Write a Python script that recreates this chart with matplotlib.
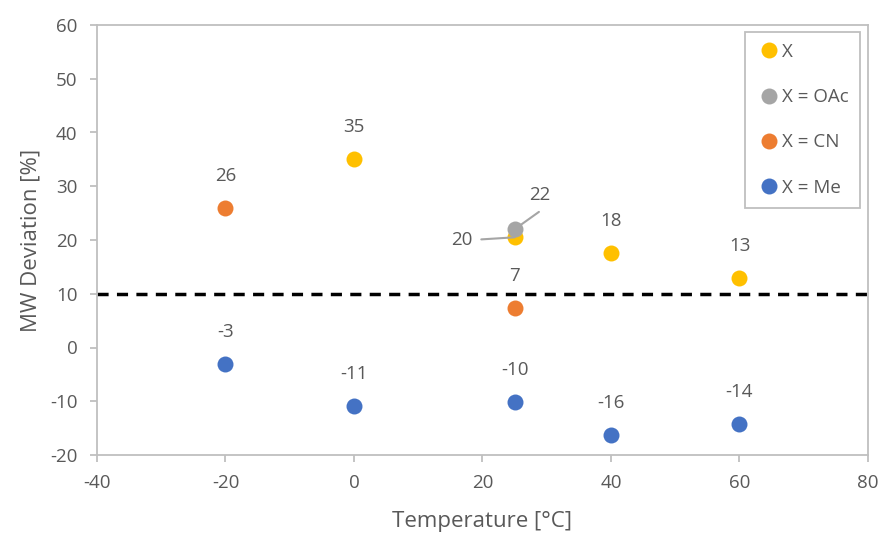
import matplotlib.pyplot as plt

# data
x_plain = [0, 25, 40, 60]
y_plain = [35, 20.5, 17.6, 13]
x_oac = [25]
y_oac = [22]
x_cn = [-20, 25]
y_cn = [26, 7.3]
x_me = [-20, 0, 25, 40, 60]
y_me = [-3.1, -10.9, -10.2, -16.2, -14.3]

lbl_plain = ["35", "20", "18", "13"]
lbl_oac = ["22"]
lbl_cn = ["26", "7"]
lbl_me = ["-3", "-11", "-10", "-16", "-14"]

threshold = 10

plt.rcParams['font.family'] = ['Open Sans', 'DejaVu Sans']
plt.rcParams['axes.unicode_minus'] = False
txt = '#595959'
ax_col = '#BFBFBF'
fs = 13.5

fig = plt.figure(figsize=(8.83, 5.36), dpi=100)
ax = fig.add_axes([97/883, 81/536, 771/883, 430/536])

ax.plot([-40, 80], [threshold, threshold], color='black', lw=2.5,
        dashes=(3.2, 2.4), zorder=2, clip_on=False)

ms = 11.5
ax.plot(x_plain, y_plain, 'o', color='#FFC000', ms=ms, mec='none', label='X', zorder=3)
ax.plot(x_oac, y_oac, 'o', color='#A5A5A5', ms=ms, mec='none', label='X = OAc', zorder=4)
ax.plot(x_cn, y_cn, 'o', color='#ED7D31', ms=ms, mec='none', label='X = CN', zorder=3)
ax.plot(x_me, y_me, 'o', color='#4472C4', ms=ms, mec='none', label='X = Me', zorder=3)

lab_kw = dict(textcoords='offset points', ha='center', va='center',
              fontsize=fs, color=txt)
for xs, ys, ls in [(x_plain, y_plain, lbl_plain), (x_cn, y_cn, lbl_cn),
                   (x_me, y_me, lbl_me)]:
    for xv, yv, s in zip(xs, ys, ls):
        if s == "20":
            continue
        ax.annotate(s, (xv, yv), xytext=(0, 23), **lab_kw)

# the two crowded labels with leader lines
lead = dict(arrowstyle='-', color='#A5A5A5', lw=1.5, shrinkA=0, shrinkB=0)
ax.annotate("", (x_plain[1], y_plain[1]), xytext=(-24, -1.5),
            textcoords='offset points', arrowprops=lead)
ax.annotate("20", (x_plain[1], y_plain[1]), xytext=(-38, -2), **lab_kw)
ax.annotate("", (x_oac[0], y_oac[0]), xytext=(17.5, 12.5),
            textcoords='offset points', arrowprops=lead)
ax.annotate(lbl_oac[0], (x_oac[0], y_oac[0]), xytext=(18, 25), **lab_kw)

ax.set_xlim(-40, 80)
ax.set_ylim(-20, 60)
ax.set_xticks(range(-40, 81, 20))
ax.set_yticks(range(-20, 61, 10))
for s in ax.spines.values():
    s.set_color(ax_col)
    s.set_linewidth(1.3)
ax.tick_params(direction='out', length=5, width=1.3, color=ax_col,
               labelcolor=txt, labelsize=fs)
ax.tick_params(axis='x', pad=9)
ax.tick_params(axis='y', pad=9)
ax.set_xlabel('Temperature [°C]', fontsize=16, color=txt, labelpad=13)
ax.set_ylabel('MW Deviation [%]', fontsize=16, color=txt, labelpad=6)

leg = ax.legend(loc='upper right', bbox_to_anchor=(0.995, 0.993), fontsize=fs,
                labelspacing=1.45, handletextpad=0.0, handlelength=1.4,
                borderpad=0.6, borderaxespad=0.2, fancybox=False, framealpha=1)
leg.get_frame().set_edgecolor(ax_col)
leg.get_frame().set_linewidth(1.3)
for t in leg.get_texts():
    t.set_color(txt)

fig.savefig('out.png', dpi=100)
